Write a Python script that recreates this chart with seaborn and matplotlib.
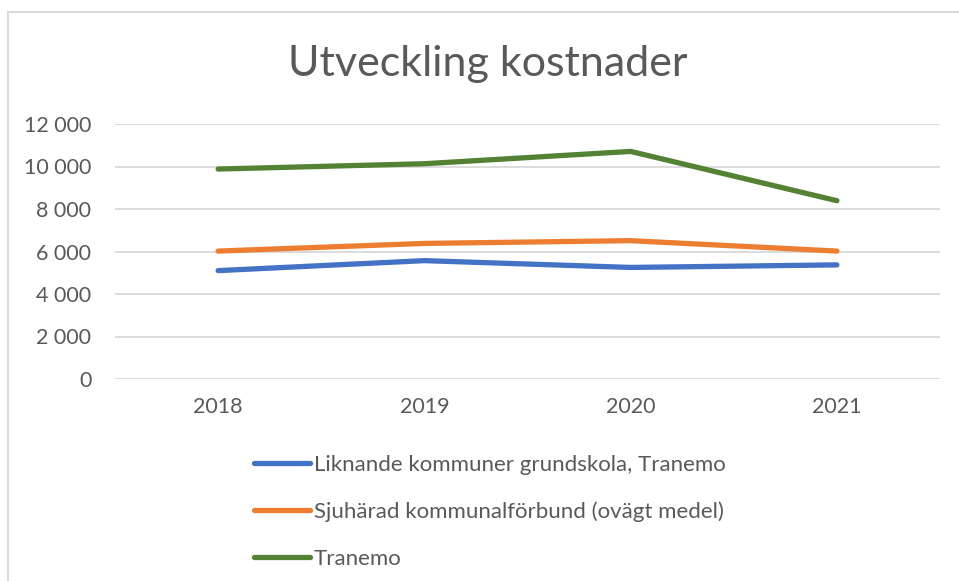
import pandas as pd
import seaborn as sns
import matplotlib.pyplot as plt
from matplotlib.ticker import FuncFormatter
from matplotlib.lines import Line2D

# Data
years = [2018, 2019, 2020, 2021]
liknande = [5100, 5570, 5250, 5370]
sjuharad = [6020, 6380, 6510, 6020]
tranemo = [9880, 10130, 10710, 8390]
series_names = ["Liknande kommuner grundskola, Tranemo",
                "Sjuhärad kommunalförbund (ovägt medel)",
                "Tranemo"]
colors = ["#4472C4", "#ED7D31", "#548235"]

df = pd.DataFrame({
    "År": years * 3,
    "Kostnad": liknande + sjuharad + tranemo,
    "Serie": [series_names[0]] * 4 + [series_names[1]] * 4 + [series_names[2]] * 4,
})

sns.set_theme(style="white")
plt.rcParams["font.family"] = ["Lato", "DejaVu Sans"]
text_color = "#595959"

W, H = 959, 581
fig = plt.figure(figsize=(W / 100, H / 100), dpi=100)
ax = fig.add_axes([115 / W, 1 - 379 / H, (940 - 115) / W, (379 - 124) / H])

sns.lineplot(data=df, x="År", y="Kostnad", hue="Serie", palette=colors,
             linewidth=3.8, ax=ax, legend=False, solid_capstyle="round")

ax.set_xlim(2017.5, 2021.5)
ax.set_ylim(0, 12000)
ax.set_xticks(years)
ax.set_yticks(range(0, 12001, 2000))
ax.yaxis.set_major_formatter(FuncFormatter(lambda v, p: f"{int(v):,}".replace(",", " ")))
ax.grid(axis="y", color="#D9D9D9", linewidth=1.3)
ax.set_axisbelow(True)
for s in ax.spines.values():
    s.set_visible(False)
ax.tick_params(axis="both", length=0, labelsize=15.5, colors=text_color)
ax.tick_params(axis="y", pad=17)
ax.tick_params(axis="x", pad=13)
ax.set_xlabel("")
ax.set_ylabel("")

fig.text(488 / W, 1 - 64 / H, "Utveckling kostnader", ha="center", va="center",
         fontsize=31, color=text_color)

handles = [Line2D([], [], color=c, linewidth=3.8, solid_capstyle="round") for c in colors]
leg = fig.legend(handles, series_names, loc="upper left",
                 bbox_to_anchor=(254 / W, 1 - 455 / H), frameon=False,
                 fontsize=16, handlelength=2.5, handletextpad=0.2,
                 labelspacing=1.2, borderpad=0, borderaxespad=0)
for t in leg.get_texts():
    t.set_color(text_color)

# outer chart border (cut at right and bottom in the reference)
fig.add_artist(Line2D([8 / W, 8 / W], [0, 1 - 12 / H], color="#D9D9D9", linewidth=1.5))
fig.add_artist(Line2D([8 / W, 1], [1 - 12 / H, 1 - 12 / H], color="#D9D9D9", linewidth=1.5))

fig.savefig("out.png", dpi=100)
